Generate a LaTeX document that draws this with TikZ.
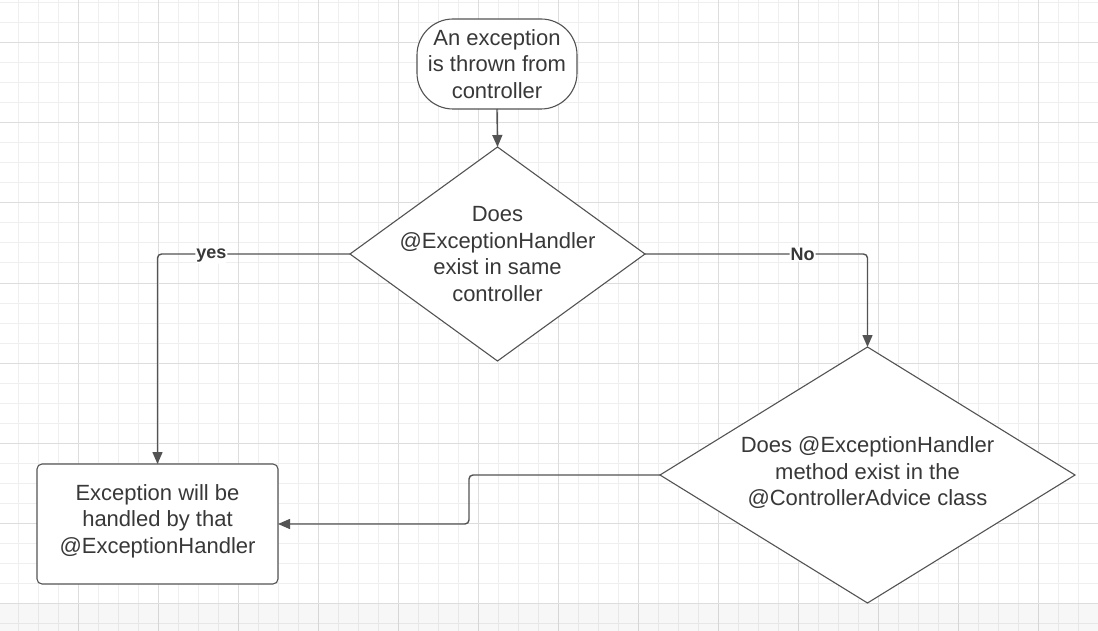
\documentclass[tikz,border=0pt]{standalone}
\usepackage{fontspec}
\setmainfont{Liberation Sans}
\usetikzlibrary{shapes.geometric,arrows.meta,calc}

\definecolor{linegray}{HTML}{535353}
\definecolor{txtgray}{HTML}{383838}
\definecolor{minorgrid}{HTML}{EFEFEF}
\definecolor{majorgrid}{HTML}{DDDDDD}

\begin{document}
\begin{tikzpicture}[x=1pt,y=-1pt,inner sep=0pt,outer sep=0pt,
    every node/.style={text=txtgray, align=center, font=\fontsize{22}{26.5}\selectfont},
    startbox/.style={draw=linegray, line width=1.1pt, fill=white, rounded corners=36pt,
        minimum width=160pt, minimum height=90pt},
    decision/.style={diamond, draw=linegray, line width=1.1pt, fill=white},
    endbox/.style={draw=linegray, line width=1.1pt, fill=white, rounded corners=5pt,
        minimum width=241pt, minimum height=120pt},
    flow/.style={draw=linegray, line width=1.4pt, rounded corners=4pt,
        -{Triangle[length=12pt,width=10pt]}},
    edgelabel/.style={fill=white, inner sep=1pt, font=\fontsize{18}{18}\selectfont\bfseries}]

    \useasboundingbox (0,0) rectangle (1098,631);
    \fill[white] (0,0) rectangle (1098,631);

    % grid
    \foreach \gx in {18,38,...,1098}
        \draw[minorgrid, line width=1pt] (\gx,0) -- (\gx,631);
    \foreach \gy in {3,23,...,631}
        \draw[minorgrid, line width=1pt] (0,\gy) -- (1098,\gy);
    \foreach \gx in {78,158,...,1098}
        \draw[majorgrid, line width=1pt] (\gx,0) -- (\gx,631);
    \foreach \gy in {43,123,...,631}
        \draw[majorgrid, line width=1pt] (0,\gy) -- (1098,\gy);
    \fill[black, opacity=0.03] (0,604) rectangle (1098,631);

    % start
    \node[startbox] (thrown) at (497,64) {};
    \node (thrown_txt) at (thrown.center) {An exception\\is thrown from\\controller};

    % same controller?
    \node[decision, minimum width=295pt, minimum height=214pt] (same_ctrl) at (497.5,254) {};
    \node (same_ctrl_txt) at (same_ctrl.center)
    {Does\\@ExceptionHandler\\exist in same\\controller};

    % controller advice?
    \node[decision, minimum width=415pt, minimum height=256pt] (advice) at (867.5,475) {};
    \node (advice_txt) at ($(advice.center) + (0,-2)$)
    {Does @ExceptionHandler\\method exist in the\\@ControllerAdvice class};

    % handled
    \node[endbox] (handled) at (157.5,524) {};
    \node (handled_txt) at ($(handled.center) + (0,-3)$)
    {Exception will be\\handled by that\\@ExceptionHandler};

    % connectors
    \draw[flow] (thrown.south) -- (same_ctrl.north);
    \draw[flow] (same_ctrl.west) -| node[edgelabel, pos=0.36, yshift=-2pt] (yes_lbl) {yes} (handled.north);
    \draw[flow] (same_ctrl.east) -| node[edgelabel, pos=0.354] (no_lbl) {No} (advice.north);
    \coordinate (advice_bend) at (469,475);
    \draw[flow] (advice.west) -- (advice_bend) |- (handled.east);

\end{tikzpicture}
\end{document}
